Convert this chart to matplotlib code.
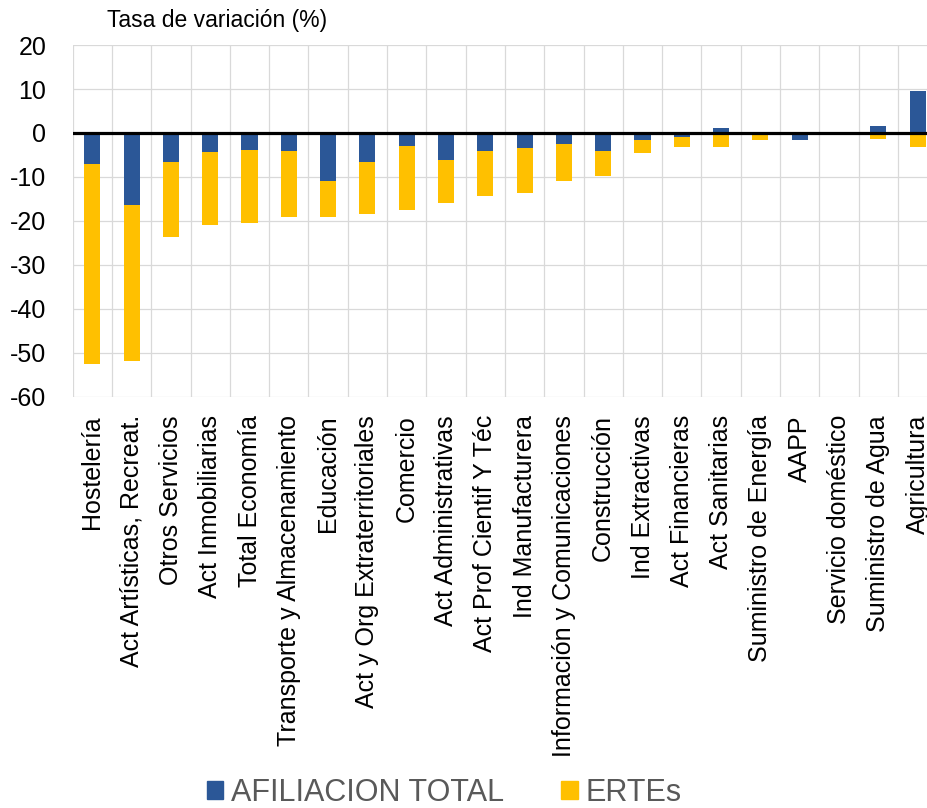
import matplotlib

matplotlib.use("Agg")
import matplotlib.pyplot as plt  # noqa: E402
import numpy as np  # noqa: E402
from matplotlib.patches import Patch  # noqa: E402

# Sectores ordenados como en el gráfico original
sectores = [
    "Hostelería",
    "Act Artísticas, Recreat.",
    "Otros Servicios",
    "Act Inmobiliarias",
    "Total Economía",
    "Transporte y Almacenamiento",
    "Educación",
    "Act y Org Extraterritoriales",
    "Comercio",
    "Act Administrativas",
    "Act Prof Cientif Y Téc",
    "Ind Manufacturera",
    "Información y Comunicaciones",
    "Construcción",
    "Ind Extractivas",
    "Act Financieras",
    "Act Sanitarias",
    "Suministro de Energía",
    "AAPP",
    "Servicio doméstico",
    "Suministro de Agua",
    "Agricultura",
]

# Tasa de variación (%) de la afiliación total
afiliacion = [-7.0, -16.3, -6.7, -4.3, -3.9, -4.2, -10.8, -6.5, -3.0, -6.1, -4.0,
              -3.3, -2.5, -4.0, -1.5, -0.9, 1.1, -0.2, -1.5, 0.0, 1.6, 9.5]
# Aportación de los ERTEs (apilada sobre la afiliación)
ertes = [-45.4, -35.6, -16.9, -16.5, -16.6, -15.0, -8.4, -11.8, -14.5, -9.7, -10.4,
         -10.3, -8.3, -5.7, -3.0, -2.2, -3.1, -1.5, 0.0, -0.5, -1.4, -3.1]

COLOR_AFIL = "#2B5797"
COLOR_ERTE = "#FFC000"
COLOR_GRID = "#D9D9D9"

plt.rcParams["font.family"] = ["Liberation Sans", "DejaVu Sans"]
plt.rcParams["axes.unicode_minus"] = False

fig = plt.figure(figsize=(9.27, 8.08), dpi=100)
ax = fig.add_axes([0.0784, 0.5087, 0.9327, 0.4356])

x = np.arange(len(sectores))
afil = np.array(afiliacion)
erte = np.array(ertes)
# Excel-style stacking: negatives stack on negatives, positives on positives
bottom_erte = np.where(np.sign(erte) == np.sign(afil), afil, 0.0)

width = 0.41
ax.bar(x, afil, width, color=COLOR_AFIL, zorder=3)
ax.bar(x, erte, width, bottom=bottom_erte, color=COLOR_ERTE, zorder=3)

ax.set_xlim(-0.5, len(sectores) - 0.5)
ax.set_ylim(-60, 20)
ax.set_yticks(range(-60, 21, 10))
ax.set_xticks(x)
ax.set_xticklabels(sectores, rotation=90, fontsize=18)
ax.tick_params(axis="x", length=0, pad=13)
ax.tick_params(axis="y", length=0, pad=19, labelsize=18)

for y in range(-60, 21, 10):
    ax.axhline(y, color=COLOR_GRID, lw=0.9, zorder=1)
for b in np.arange(-0.5, len(sectores), 1.0):
    ax.axvline(b, color=COLOR_GRID, lw=0.9, zorder=1)
ax.axhline(0, color="black", lw=2.3, zorder=4)

for side in ax.spines.values():
    side.set_visible(False)

fig.text(107 / 927, 1 - 20 / 808, "Tasa de variación (%)", fontsize=16.5,
         va="center", ha="left")

handles = [Patch(color=COLOR_AFIL), Patch(color=COLOR_ERTE)]
leg = fig.legend(
    handles,
    ["AFILIACION TOTAL", "ERTEs"],
    loc="center",
    bbox_to_anchor=(444 / 927, 1 - 793 / 808),
    ncol=2,
    fontsize=22,
    frameon=False,
    handlelength=0.55,
    handleheight=0.55,
    handletextpad=0.25,
    columnspacing=1.85,
)
for t in leg.get_texts():
    t.set_color("#595959")

fig.savefig("out.png", dpi=100)
